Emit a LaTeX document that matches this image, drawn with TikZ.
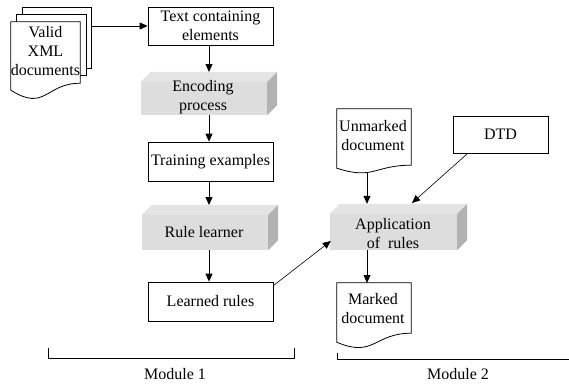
\documentclass[tikz,border=0pt]{standalone}
\usepackage{fontspec}
\setmainfont{Liberation Serif}
\usetikzlibrary{arrows.meta,calc}
\definecolor{boxfront}{RGB}{221,221,221}
\definecolor{boxtop}{RGB}{228,228,228}
\definecolor{boxside}{RGB}{178,178,178}
\tikzset{
  lbl/.style={font=\fontsize{16}{19}\selectfont, align=center, inner sep=0pt},
  plainbox/.style={lbl, draw, line width=0.8pt, fill=white},
  cubebox/.style={lbl, fill=boxfront},
  docarea/.style={lbl},
  arr/.style={line width=0.8pt, -{Triangle[length=8pt,width=7pt]}},
  brk/.style={line width=0.8pt},
  docline/.style={line width=0.8pt, fill=white}
}
\newcommand{\cubefaces}[1]{%
  \fill[boxtop] (#1.north west) -- ++(10,-10) -- ($(#1.north east)+(10,-10)$) -- (#1.north east) -- cycle;
  \fill[boxside] (#1.north east) -- ++(10,-10) -- ($(#1.south east)+(10,-10)$) -- (#1.south east) -- cycle;
}
\begin{document}
\begin{tikzpicture}[x=1pt,y=-1pt]
\useasboundingbox (0,0) rectangle (569,383);

% ---------- stacked documents
\node[draw, line width=0.8pt, fill=white, minimum width=69pt, minimum height=61pt, inner sep=0pt] (vb) at (56.5,37.5) {};
\node[draw, line width=0.8pt, fill=white, minimum width=70pt, minimum height=61pt, inner sep=0pt] (vm) at (51,44.5) {};
\node[docarea, minimum width=69pt, minimum height=61pt] (valid) at (45.5,52.5) {};
\draw[docline] (valid.north west) -- (valid.north east) -- (valid.south east)
  .. controls ($(valid.south)+(0,0)$) and ($(valid.south)+(0,29)$) .. ($(valid.south west)+(0,7)$) -- cycle;
\node[lbl] at (45.5,51) {Valid\\XML\\documents};

% ---------- module 1 chain
\node[plainbox, minimum width=125pt, minimum height=38pt] (txt) at (210.5,26) {Text containing\\elements};

\node[cubebox, minimum width=126pt, minimum height=33pt] (enc) at (204,98.5) {};
\cubefaces{enc}
\node[lbl] at (203,97.5) {Encoding\\process};

\node[plainbox, minimum width=125pt, minimum height=39pt] (train) at (210.5,161.5) {Training examples};

\node[cubebox, minimum width=126pt, minimum height=35pt] (rule) at (205,232.5) {};
\cubefaces{rule}
\node[lbl] at (204,232.5) {Rule learner};

\node[plainbox, minimum width=125pt, minimum height=39pt] (learned) at (210.5,301.5) {Learned rules};

% ---------- module 2
\node[docarea, minimum width=74pt, minimum height=56pt] (unm) at (374,137) {};
\draw[docline] (unm.north west) -- (unm.north east) -- (unm.south east)
  .. controls ($(unm.south)+(0,0)$) and ($(unm.south)+(0,15)$) .. ($(unm.south west)+(0,3)$) -- cycle;
\node[lbl] at (373,136) {Unmarked\\document};

\node[plainbox, minimum width=95pt, minimum height=37pt] (dtd) at (500.5,134.5) {DTD};

\node[cubebox, minimum width=127pt, minimum height=36pt] (app) at (393.5,232) {};
\cubefaces{app}
\node[lbl] at (393,234) {Application\\of\ \ rules};

\node[docarea, minimum width=74pt, minimum height=50pt] (mark) at (374,308) {};
\draw[docline] (mark.north west) -- (mark.north east) -- (mark.south east)
  .. controls ($(mark.south)+(0,0)$) and ($(mark.south)+(0,25)$) .. ($(mark.south west)+(0,9)$) -- cycle;
\node[lbl] at (373,309) {Marked\\document};

% ---------- connectors
\coordinate (encT) at ($(enc.north)+(0,-10)$);
\coordinate (ruleT) at ($(rule.north)+(0,-10)$);
\coordinate (appT) at ($(app.north)+(0,-10)$);
\coordinate (unmB) at (367,172);
\coordinate (dtdS) at (467,154);
\coordinate (appDTD) at (412,203);
\coordinate (appW) at ($(app.west)+(1,9)$);
\coordinate (lrE) at ($(learned.north east)+(0,4)$);

\draw[arr] (vb.east |- txt.west) -- (txt.west);
\draw[arr] (209,45) -- (209,72);
\draw[arr] (209,115) -- (train.north -| 209,0);
\draw[arr] (209,181) -- (209,205);
\draw[arr] (209,250) -- (learned.north -| 209,0);
\draw[arr, line width=0.6pt] (lrE) -- (appW);
\draw[arr] (unmB) -- (unmB |- appT);
\draw[arr, line width=0.6pt] (dtdS) -- (appDTD);
\draw[arr] (367,250) -- (367,283);

% ---------- module brackets
\draw[brk] (48,348) -- (48,358) -- (294,358) -- (294,348);
\node[lbl] (m1) at (175,374) {Module 1};
\draw[brk] (337,353) -- (337,359) -- (569,359);
\node[lbl] (m2) at (458,374) {Module 2};
\end{tikzpicture}
\end{document}
